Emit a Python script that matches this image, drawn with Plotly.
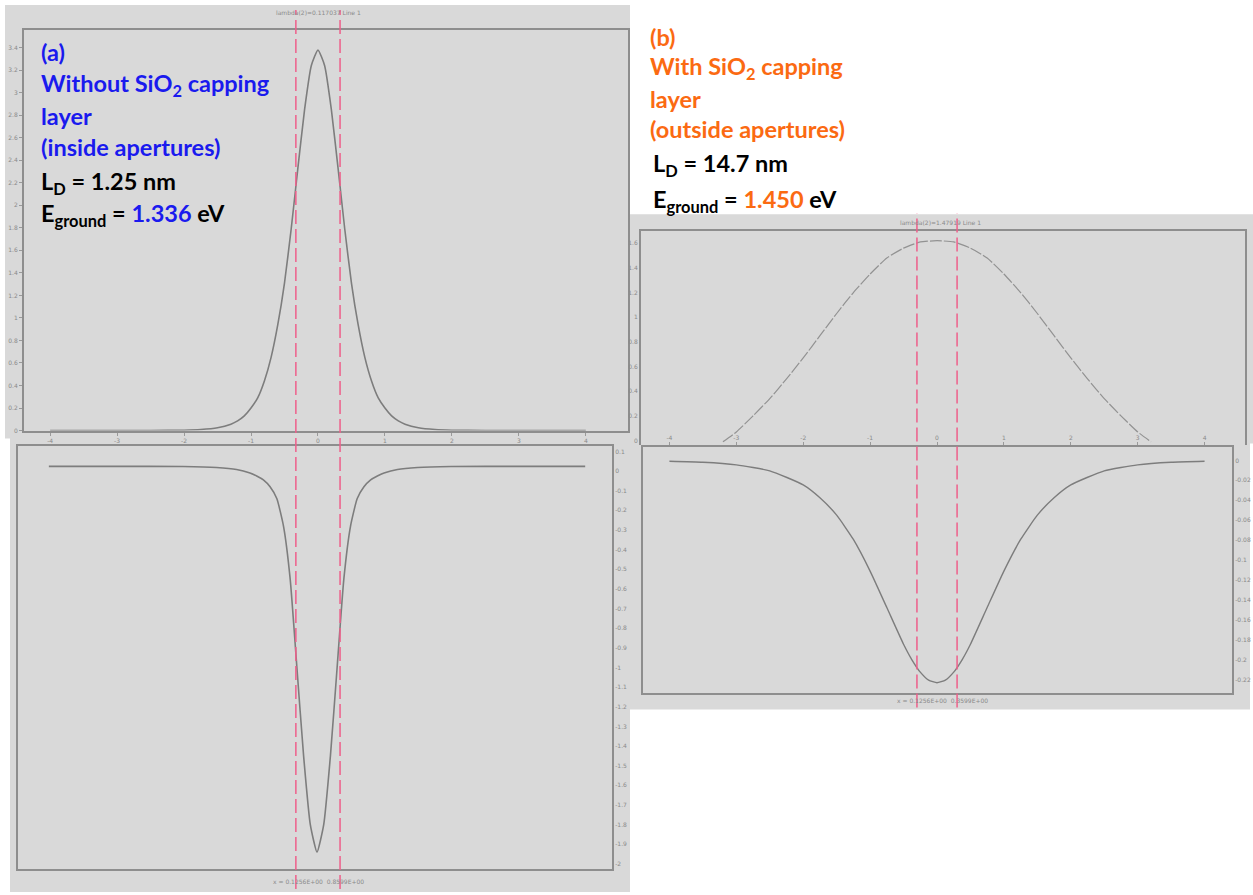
import plotly.graph_objects as go

W, H = 1253, 895

# ---------------- data ----------------
# (a) without SiO2 capping layer: ground-state probability density and potential
x_a = [-4.0, -3.0, -2.5, -2.0, -1.75, -1.5, -1.3, -1.2, -1.1, -1.0, -0.9, -0.8, -0.7,
       -0.6, -0.5, -0.4, -0.3, -0.2, -0.1, 0.0, 0.1, 0.2, 0.3, 0.4, 0.5, 0.6, 0.7,
       0.8, 0.9, 1.0, 1.1, 1.2, 1.3, 1.5, 1.75, 2.0, 2.5, 3.0, 4.0]
psi2_a = [0.0, 0.0, 0.0005, 0.003, 0.009, 0.025, 0.057, 0.086, 0.13, 0.20, 0.29, 0.44, 0.65,
          0.94, 1.31, 1.79, 2.33, 2.85, 3.24, 3.38, 3.24, 2.85, 2.33, 1.79, 1.31, 0.94, 0.65,
          0.44, 0.29, 0.20, 0.13, 0.086, 0.057, 0.025, 0.009, 0.003, 0.0005, 0.0, 0.0]

x_a_pot = [-4.0, -3.0, -2.0, -1.5, -1.2, -1.0, -0.9, -0.8, -0.7, -0.6, -0.5, -0.4, -0.3,
           -0.2, -0.1, 0.0, 0.1, 0.2, 0.3, 0.4, 0.5, 0.6, 0.7, 0.8, 0.9, 1.0, 1.2,
           1.5, 2.0, 3.0, 4.0]
pot_a = [0.024, 0.024, 0.023, 0.018, 0.008, -0.01, -0.025, -0.045, -0.08, -0.14, -0.28, -0.55, -1.0,
         -1.45, -1.80, -1.94, -1.80, -1.45, -1.0, -0.55, -0.28, -0.14, -0.08, -0.045, -0.025, -0.01, 0.008,
         0.018, 0.023, 0.024, 0.024]

# (b) with SiO2 capping layer
x_b = [-3.2, -3.0, -2.75, -2.5, -2.25, -2.0, -1.75, -1.5, -1.25, -1.0, -0.75, -0.5, -0.25,
       0.0, 0.25, 0.5, 0.75, 1.0, 1.25, 1.5, 1.75, 2.0, 2.25, 2.5, 2.75, 3.0, 3.2]
psi2_b = [-0.01, 0.07, 0.20, 0.34, 0.50, 0.67, 0.85, 1.03, 1.20, 1.35, 1.48, 1.56, 1.61,
          1.62, 1.61, 1.56, 1.48, 1.35, 1.20, 1.03, 0.85, 0.67, 0.50, 0.34, 0.20, 0.07, -0.01]

x_b_pot = [-4.0, -3.5, -3.0, -2.5, -2.0, -1.75, -1.5, -1.25, -1.0, -0.75, -0.5, -0.375, -0.25,
           -0.125, 0.0, 0.125, 0.25, 0.375, 0.5, 0.75, 1.0, 1.25, 1.5, 1.75, 2.0, 2.5, 3.0,
           3.5, 4.0]
pot_b = [-0.0008, -0.0018, -0.0044, -0.0104, -0.0245, -0.0374, -0.0549, -0.0793, -0.111, -0.1476,
         -0.1844, -0.2000, -0.2124, -0.2204, -0.223, -0.2204, -0.2124, -0.2000, -0.1844, -0.1476,
         -0.111, -0.0793, -0.0549, -0.0374, -0.0245, -0.0104, -0.0044, -0.0018, -0.0008]

# aperture edges (dashed markers)
aperture_a = [-0.33, 0.33]
aperture_b = [-0.3, 0.3]

# tick values / labels
xticks = [-4, -3, -2, -1, 0, 1, 2, 3, 4]
yticks_a_top = [0, 0.2, 0.4, 0.6, 0.8, 1, 1.2, 1.4, 1.6, 1.8, 2, 2.2, 2.4, 2.6, 2.8, 3, 3.2, 3.4]
yticks_a_bot = [0.1, 0, -0.1, -0.2, -0.3, -0.4, -0.5, -0.6, -0.7, -0.8, -0.9, -1, -1.1, -1.2,
                -1.3, -1.4, -1.5, -1.6, -1.7, -1.8, -1.9, -2]
yticks_b_top = [0, 0.2, 0.4, 0.6, 0.8, 1, 1.2, 1.4, 1.6]
yticks_b_bot = [0, -0.02, -0.04, -0.06, -0.08, -0.1, -0.12, -0.14, -0.16, -0.18, -0.2, -0.22]

# ---------------- styling helpers ----------------
GRAY_BG = "#d9d9d9"
FRAME = "#8e8e8e"
CURVE = "#7d7d7d"
PINK = "#ee5f8b"
TICKFONT = dict(family="DejaVu Sans", size=6, color="#8a8a8a")


def px(p):
    return p / W


def py(p):
    return 1 - p / H


def lbl(v):
    return ("%g" % v)


fig = go.Figure()

line_style = dict(color=CURVE, width=1.6, shape="spline", smoothing=0.5)
fig.add_trace(go.Scatter(x=x_a, y=psi2_a, mode="lines", line=line_style,
                         xaxis="x", yaxis="y", hoverinfo="skip", showlegend=False))
fig.add_trace(go.Scatter(x=x_a_pot, y=pot_a, mode="lines", line=line_style,
                         xaxis="x2", yaxis="y2", hoverinfo="skip", showlegend=False))
fig.add_trace(go.Scatter(x=x_b, y=psi2_b, mode="lines",
                         line=dict(color="#929292", width=1.2, shape="spline", smoothing=0.5, dash="12px,2px"),
                         xaxis="x3", yaxis="y3", hoverinfo="skip", showlegend=False))
fig.add_trace(go.Scatter(x=x_b_pot, y=pot_b, mode="lines", line=dict(color=CURVE, width=1.4, shape="spline", smoothing=0.5),
                         xaxis="x4", yaxis="y4", hoverinfo="skip", showlegend=False))

common = dict(showgrid=False, zeroline=False, linecolor=FRAME, linewidth=2,
              tickfont=TICKFONT, tickcolor="#9a9a9a", ticklen=3, tickwidth=1)

fig.update_layout(
    width=W, height=H, margin=dict(l=0, r=0, t=0, b=0),
    paper_bgcolor="white", plot_bgcolor="rgba(0,0,0,0)",
    showlegend=False,
    xaxis=dict(domain=[px(24), px(628)], range=[-4.39, 4.63], anchor="y",
               showline=True, mirror=True, ticks="outside",
               tickvals=xticks, ticktext=[lbl(v) for v in xticks], **common),
    yaxis=dict(domain=[py(432), py(30)], range=[0, 3.558], anchor="x",
               showline=True, mirror=True, ticks="outside",
               tickvals=yticks_a_top, ticktext=[lbl(v) for v in yticks_a_top], **common),
    xaxis2=dict(domain=[px(18), px(612)], range=[-4.46, 4.40], anchor="y2",
                showline=True, mirror=True, ticks="", showticklabels=False, **common),
    yaxis2=dict(domain=[py(872), py(447)], range=[-2.026, 0.130], anchor="x2", side="right",
                showline=True, mirror=True, ticks="",
                tickvals=yticks_a_bot, ticktext=[lbl(v) for v in yticks_a_bot], **common),
    xaxis3=dict(domain=[px(641), px(1245)], range=[-4.425, 4.604], anchor="y3", side="top",
                showline=True, mirror=False, ticks="", showticklabels=False, **common),
    yaxis3=dict(domain=[py(446), py(232)], range=[-0.032, 1.697], anchor="x3",
                showline=True, mirror=True, ticks="",
                tickvals=yticks_b_top, ticktext=[lbl(v) for v in yticks_b_top], **common),
    xaxis4=dict(domain=[px(643), px(1232)], range=[-4.395, 4.41], anchor="y4", side="top",
                showline=True, mirror=True, ticks="outside",
                tickvals=xticks, ticktext=[lbl(v) for v in xticks], **common),
    yaxis4=dict(domain=[py(695), py(449)], range=[-0.233, 0.013], anchor="x4", side="right",
                showline=True, mirror=True, ticks="",
                tickvals=yticks_b_bot, ticktext=[lbl(v) for v in yticks_b_bot], **common),
)

# gray panel backgrounds
panels = [(5, 5, 630, 440), (10, 437, 630, 895), (625, 215, 1253, 445), (630, 440, 1250, 712)]
for x0, y0, x1, y1 in panels:
    fig.add_shape(type="rect", xref="paper", yref="paper", x0=px(x0), x1=px(x1),
                  y0=py(y1), y1=py(y0), fillcolor=GRAY_BG, line=dict(width=0), layer="below")

# aperture boundaries
for xv in aperture_a:
    fig.add_shape(type="line", xref="x", yref="paper", x0=xv, x1=xv, y0=py(892), y1=py(10),
                  line=dict(color=PINK, width=1.5, dash="14px,5px"), layer="above")
for xv in aperture_b:
    fig.add_shape(type="line", xref="x3", yref="paper", x0=xv, x1=xv, y0=py(710), y1=py(214),
                  line=dict(color=PINK, width=1.5, dash="14px,5px"), layer="above")

# small plot captions
small = dict(family="DejaVu Sans", size=6, color="#8a8a8a")
captions = [(318, 13, "lambda(2)=0.117037 Line 1"), (318, 884, "x = 0.1256E+00  0.8599E+00"),
            (940, 223, "lambda(2)=1.47919 Line 1"), (942, 703, "x = 0.1256E+00  0.3599E+00")]
for cx, cy, t in captions:
    fig.add_annotation(x=px(cx), y=py(cy), xref="paper", yref="paper", text=t, showarrow=False,
                       font=small, xanchor="center", yanchor="middle")

BLUE = "#1a1aee"
ORANGE = "#fb6a12"
big = "Lato"


def label(x, y, text, color, size=23.5):
    fig.add_annotation(x=px(x), y=py(y), xref="paper", yref="paper", text="<b>" + text + "</b>",
                       showarrow=False, xanchor="left", yanchor="middle",
                       font=dict(family=big, size=size, color=color))


label(39, 52, "(a)", BLUE)
label(39, 85, "Without SiO<sub>2</sub> capping", BLUE)
label(39, 116, "layer", BLUE)
label(39, 147, "(inside apertures)", BLUE)
label(39, 184, "L<sub>D</sub> = 1.25 nm", "black")
label(39, 216, "E<sub>ground</sub> = <span style='color:%s'>1.336</span> eV" % BLUE, "black")

label(648, 37, "(b)", ORANGE)
label(648, 68, "With SiO<sub>2</sub> capping", ORANGE)
label(648, 99, "layer", ORANGE)
label(648, 129, "(outside apertures)", ORANGE)
label(651, 166, "L<sub>D</sub> = 14.7 nm", "black")
label(651, 202, "E<sub>ground</sub> = <span style='color:%s'>1.450</span> eV" % ORANGE, "black")

fig.write_html("out.html")
